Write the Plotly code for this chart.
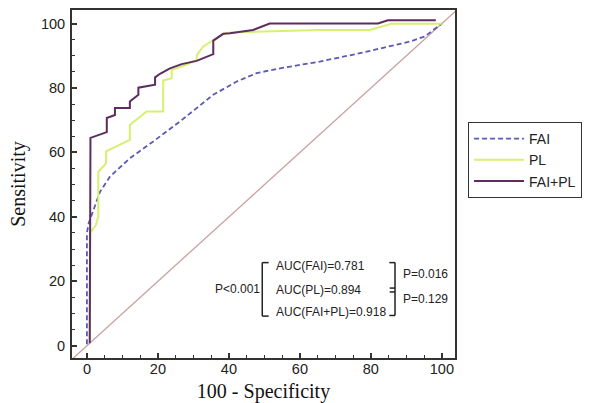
import plotly.graph_objects as go

# ---- data ----
fai_x = [0, 0, 0.5, 1.8, 2.3, 3.7, 6.5, 12.1, 18.7, 26.2, 35.6, 42.2, 47.8, 54.4, 65.6, 76.9, 91.0, 95.2, 100]
fai_y = [0.5, 35, 38, 42, 43.7, 47.8, 52.5, 58.2, 63.4, 69.6, 77.9, 82.0, 84.6, 86.1, 88.2, 90.8, 94.4, 96.0, 100]

pl_x = [0.8, 0.8, 2.5, 3.2, 3.2, 5.4, 5.4, 12.1, 12.1, 16.8, 21.5, 21.5, 23.9, 23.9, 28.0, 30.9, 31.0, 32.8, 37.9, 40.3, 65.6, 79.7, 85.8, 100]
pl_y = [0.8, 35, 37.4, 40, 54, 56.6, 60.3, 63.9, 68.5, 72.7, 72.7, 82.3, 83.0, 85.6, 87.2, 88.7, 90.3, 92.9, 96.5, 97.2, 98.0, 98.0, 99.9, 99.9]

faipl_x = [0.8, 0.8, 1.0, 5.6, 5.6, 7.9, 7.9, 12.1, 12.1, 14.5, 14.5, 19.2, 19.2, 20.6, 23.4, 26.7, 30.9, 35.6, 35.6, 38.4, 40.3, 46.8, 51.5, 82.0, 84.8, 98.3]
faipl_y = [0.8, 37, 64.5, 66.3, 70.7, 71.6, 73.8, 73.8, 75.8, 77.9, 80.1, 81.0, 83.3, 84.4, 86.1, 87.4, 88.4, 90.5, 94.7, 96.8, 97.0, 98.0, 100, 100, 101, 101]

diag = [-5, 105]

series_names = ["FAI", "PL", "FAI+PL"]
auc_labels = ["AUC(FAI)=0.781", "AUC(PL)=0.894", "AUC(FAI+PL)=0.918"]
p_labels = ["P<0.001", "P=0.016", "P=0.129"]
tick_vals = [0, 20, 40, 60, 80, 100]

AX = "#333333"
SANS = "Liberation Sans, Arial, sans-serif"
SERIF = "Liberation Serif, Times New Roman, serif"

fig = go.Figure()
fig.add_trace(go.Scatter(x=diag, y=diag, mode="lines", showlegend=False,
                         line=dict(color="#c8a0a0", width=1.3), hoverinfo="skip"))
fig.add_trace(go.Scatter(x=fai_x, y=fai_y, mode="lines", name=series_names[0],
                         line=dict(color="#5a5ab4", width=1.8, dash="5px,3px")))
fig.add_trace(go.Scatter(x=pl_x, y=pl_y, mode="lines", name=series_names[1],
                         line=dict(color="#d6f070", width=2)))
fig.add_trace(go.Scatter(x=faipl_x, y=faipl_y, mode="lines", name=series_names[2],
                         line=dict(color="#5e2c5e", width=2)))

axis_common = dict(showgrid=False, zeroline=False, showline=True, linecolor=AX, linewidth=2,
                   mirror=True, ticks="inside", ticklen=5, tickcolor=AX, tickwidth=1.5,
                   tickvals=tick_vals, tickfont=dict(family=SANS, size=14.5, color="#222"),
                   minor=dict(dtick=5, ticks="inside", ticklen=3, tickcolor=AX, tickwidth=1),
                   automargin=False)

fig.update_xaxes(range=[-4.2, 103.7], **axis_common, ticklabelstandoff=-3,
                 title=dict(text="100 - Specificity", font=dict(family=SERIF, size=20, color="#111"), standoff=10))
fig.update_yaxes(range=[-3.8, 104.2], **axis_common, ticklabelstandoff=2,
                 title=dict(text="Sensitivity", font=dict(family=SERIF, size=20, color="#111"), standoff=10))

# annotation text
ann_font = dict(family=SANS, size=12, color="#222")
anns = [
    dict(x=42.3, y=17.6, text=p_labels[0], xanchor="center"),
    dict(x=52.6, y=24.8, text=auc_labels[0], xanchor="left"),
    dict(x=52.6, y=17.3, text=auc_labels[1], xanchor="left"),
    dict(x=52.6, y=10.5, text=auc_labels[2], xanchor="left"),
    dict(x=88.6, y=22.3, text=p_labels[1], xanchor="left"),
    dict(x=88.6, y=14.4, text=p_labels[2], xanchor="left"),
]
for a in anns:
    fig.add_annotation(xref="x", yref="y", showarrow=False, yanchor="middle", font=ann_font, **a)

# brackets
lc = dict(color="#222", width=1.5)
shapes = [
    (49.4, 25.8, 49.4, 9.2), (49.4, 25.8, 51.2, 25.8), (49.4, 9.2, 51.2, 9.2),
    (86.8, 25.8, 86.8, 9.4), (85.2, 25.8, 86.8, 25.8), (85.2, 9.4, 86.8, 9.4),
    (85.3, 17.9, 86.8, 17.9), (85.3, 16.7, 86.8, 16.7),
]
for x0, y0, x1, y1 in shapes:
    fig.add_shape(type="line", xref="x", yref="y", x0=x0, y0=y0, x1=x1, y1=y1, line=lc)

fig.update_layout(
    width=597, height=403,
    margin=dict(l=72, r=142, t=10, b=45),
    paper_bgcolor="white", plot_bgcolor="white",
    legend=dict(x=1.034, y=0.678, xanchor="left", yanchor="top",
                bordercolor=AX, borderwidth=1, bgcolor="white",
                font=dict(family=SANS, size=14, color="#222"),
                itemwidth=50, tracegroupgap=0),
)

fig.write_html("out.html")
